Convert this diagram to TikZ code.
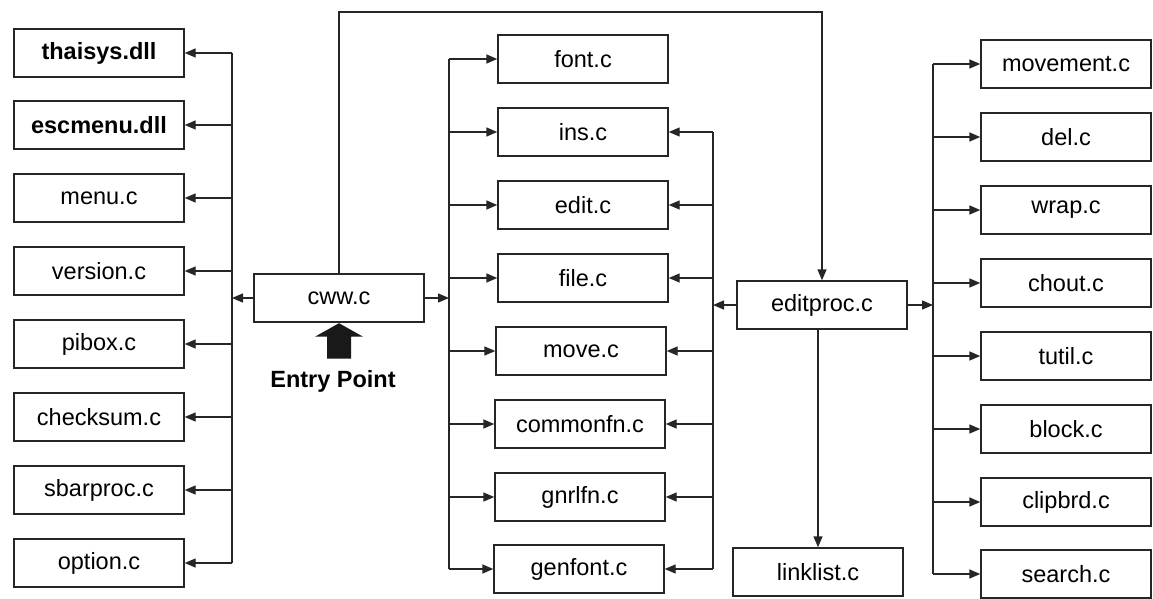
\documentclass[tikz,border=0pt]{standalone}
\usepackage{fontspec}
\setmainfont{Liberation Sans}
\usetikzlibrary{arrows.meta,calc}
\begin{document}
\begin{tikzpicture}[x=1pt,y=-1pt,
  box/.style={draw=black!85,line width=1.4pt,minimum width=170pt,minimum height=48pt,inner sep=0pt,font=\fontsize{23.5}{26}\selectfont},
  bbox/.style={box,font=\fontsize{23.5}{26}\selectfont\bfseries},
  ln/.style={draw=black!85,line width=1.4pt},
  arr/.style={ln,-{Triangle[length=11pt,width=9pt]}}]
\useasboundingbox[fill=white] (0,0) rectangle (1153,599);
% left column
\node[bbox] (thaisys) at (99,53) {thaisys.dll};
\node[bbox] (escmenu) at (99,125) {escmenu.dll};
\node[box] (menu) at (99,198) {menu.c};
\node[box] (version) at (99,271) {version.c};
\node[box] (pibox) at (99,344) {pibox.c};
\node[box] (checksum) at (99,417) {checksum.c};
\node[box] (sbarproc) at (99,490) {sbarproc.c};
\node[box] (option) at (99,563) {option.c};
% centre
\node[box] (cww) at (339,298) {cww.c};
% middle column
\node[box] (font) at (583,59) {font.c};
\node[box] (ins) at (583,132) {ins.c};
\node[box] (edit) at (583,205) {edit.c};
\node[box] (file) at (583,278) {file.c};
\node[box] (move) at (581,351) {move.c};
\node[box] (commonfn) at (580,424) {commonfn.c};
\node[box] (gnrlfn) at (580,497) {gnrlfn.c};
\node[box] (genfont) at (579,569) {genfont.c};
% editproc
\node[box] (editproc) at (822,305) {editproc.c};
\node[box] (linklist) at (818,572) {linklist.c};
% right column
\node[box] (movement) at (1066,64) {movement.c};
\node[box] (del) at (1066,137) {del.c};
\node[box] (wrap) at (1066,210) {wrap.c};
\node[box] (chout) at (1066,283) {chout.c};
\node[box] (tutil) at (1066,356) {tutil.c};
\node[box] (block) at (1066,429) {block.c};
\node[box] (clipbrd) at (1066,502) {clipbrd.c};
\node[box] (search) at (1066,574) {search.c};
% bus coordinates
\coordinate (lbus) at (232,0);
\coordinate (mlbus) at (449,0);
\coordinate (mrbus) at (713,0);
\coordinate (rbus) at (933,0);
\coordinate (topline) at (0,12);
% left bus
\draw[ln] (lbus |- thaisys) -- (lbus |- option);
\foreach \n in {thaisys,escmenu,menu,version,pibox,checksum,sbarproc,option}
  \draw[arr] (lbus |- \n) -- (\n.east);
\draw[arr] (cww.west) -- (lbus |- cww);
% middle left bus
\draw[ln] (mlbus |- font) -- (mlbus |- genfont);
\foreach \n in {font,ins,edit,file,move,commonfn,gnrlfn,genfont}
  \draw[arr] (mlbus |- \n) -- (\n.west);
\draw[arr] (cww.east) -- (mlbus |- cww);
% middle right bus
\draw[ln] (mrbus |- ins) -- (mrbus |- genfont);
\foreach \n in {ins,edit,file,move,commonfn,gnrlfn,genfont}
  \draw[arr] (mrbus |- \n) -- (\n.east);
\draw[arr] (editproc.west) -- (mrbus |- editproc);
% right bus
\draw[ln] (rbus |- movement) -- (rbus |- search);
\foreach \n in {movement,del,wrap,chout,tutil,block,clipbrd,search}
  \draw[arr] (rbus |- \n) -- (\n.west);
\draw[arr] (editproc.east) -- (rbus |- editproc);
% top line cww -> editproc
\draw[arr] (cww.north) -- (cww.north |- topline) -- (editproc.north |- topline) -- (editproc.north);
% editproc -> linklist
\draw[arr] (editproc.south -| linklist.north) -- (linklist.north);
% entry point
\fill[black!90] ($(cww.south)+(-12,36)$) -- ++(0,-22) -- ++(-12,0) -- ($(cww.south)+(0,0.5)$) -- ($(cww.south)+(24,14)$) -- ++(-12,0) -- ++(0,22) -- cycle;
\node[font=\fontsize{23.5}{26}\selectfont\bfseries] (entry) at ($(cww.south)+(-6,59)$) {Entry Point};
\end{tikzpicture}
\end{document}
